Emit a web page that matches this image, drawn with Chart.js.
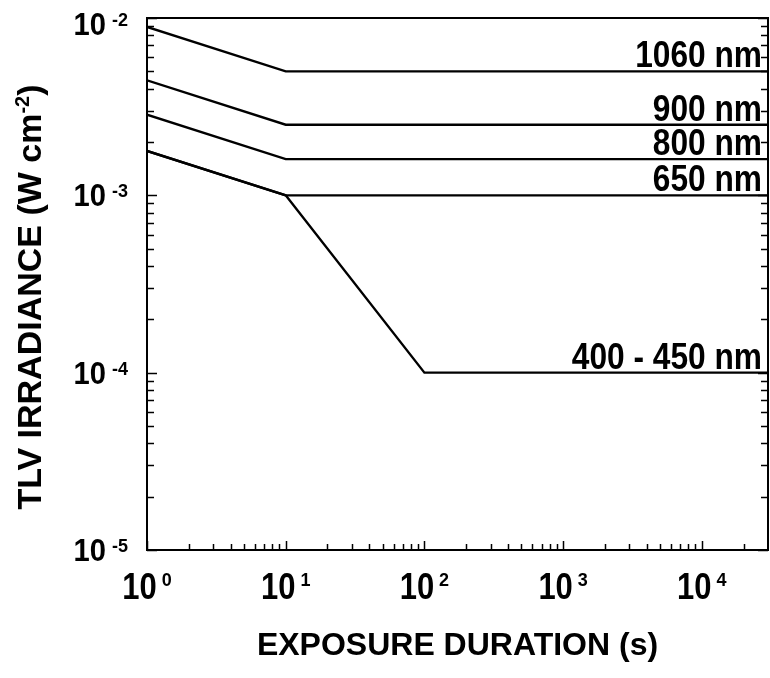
<!DOCTYPE html>
<html>
<head>
<meta charset="utf-8">
<script src="https://cdn.jsdelivr.net/npm/chart.js@4.4.1/dist/chart.umd.min.js"></script>
<style>
  html, body { margin: 0; padding: 0; background: #fff; }
  #wrap { width: 770px; height: 678px; position: relative; }
</style>
</head>
<body>
<div id="wrap"><canvas id="tlv"></canvas></div>
<script>
// exposure duration (s) at the break points of every curve
const durations = [1, 10, 100, 30000];
// TLV irradiance (W cm^-2) at those durations
const tlv1060 = [8.9e-3, 5.0e-3, 5.0e-3, 5.0e-3];
const tlv900 = [4.45e-3, 2.5e-3, 2.5e-3, 2.5e-3];
const tlv800 = [2.85e-3, 1.6e-3, 1.6e-3, 1.6e-3];
const tlv650 = [1.78e-3, 1.0e-3, 1.0e-3, 1.0e-3];
const tlvBlue = [1.78e-3, 1.0e-3, 1.0e-4, 1.0e-4];
const curveNames = ['1060 nm', '900 nm', '800 nm', '650 nm', '400 - 450 nm'];

// decades carrying a labelled tick
const xDecades = [0, 1, 2, 3, 4];
const yDecades = [-5, -4, -3, -2];
const minorSteps = [2, 3, 4, 5, 6, 7, 8, 9];

const curves = [tlv1060, tlv900, tlv800, tlv650, tlvBlue];
const FONT = '"Liberation Sans", Arial, Helvetica, sans-serif';
const INK = '#000';

const bold = (px) => `bold ${px}px ${FONT}`;

function measure(ctx, text, px, sx) {
    ctx.save();
    ctx.font = bold(px);
    const w = ctx.measureText(text).width * sx;
    ctx.restore();
    return w;
}

// bold text, optionally narrowed by sx
function drawText(ctx, text, x, y, px, sx, align) {
    const w = measure(ctx, text, px, sx);
    let left = x;
    if (align === 'right') left = x - w;
    else if (align === 'center') left = x - w / 2;
    ctx.save();
    ctx.font = bold(px);
    ctx.textAlign = 'left';
    ctx.textBaseline = 'alphabetic';
    ctx.translate(left, y);
    ctx.scale(sx, 1);
    ctx.fillText(text, 0, 0);
    ctx.restore();
    return w;
}

// "10" followed by a raised exponent
function powerLabel(ctx, exp, x, y, o) {
    const bw = measure(ctx, '10', o.size, o.sx);
    const sw = measure(ctx, String(exp), o.supSize, 1);
    const total = bw + o.gap + sw;
    const left = o.align === 'right' ? x - total : x - total / 2;
    drawText(ctx, '10', left, y, o.size, o.sx, 'left');
    drawText(ctx, String(exp), left + bw + o.gap, y - o.rise, o.supSize, 1, 'left');
}

function logTicks(decades, max) {
    const major = decades.map((e) => Math.pow(10, e));
    const minor = [];
    decades.forEach((e) => minorSteps.forEach((m) => {
        const v = m * Math.pow(10, e);
        if (v < max) minor.push(v);
    }));
    return { major, minor };
}

const framePlugin = {
    id: 'frame',
    afterDatasetsDraw(chart) {
        const { ctx, chartArea: a, scales: { x, y } } = chart;
        ctx.save();
        ctx.strokeStyle = INK;
        ctx.fillStyle = INK;

        // inward tick marks on left, right and bottom
        const xt = logTicks(xDecades, x.max);
        const yt = logTicks(yDecades, y.max);
        ctx.lineWidth = 1.5;
        ctx.beginPath();
        const yMark = (v, len) => {
            const py = Math.round(y.getPixelForValue(v)) + 0.5;
            ctx.moveTo(a.left, py); ctx.lineTo(a.left + len, py);
            ctx.moveTo(a.right, py); ctx.lineTo(a.right - len, py);
        };
        const xMark = (v, len) => {
            const px = Math.round(x.getPixelForValue(v)) + 0.5;
            ctx.moveTo(px, a.bottom); ctx.lineTo(px, a.bottom - len);
        };
        yt.major.forEach((v) => yMark(v, 10));
        yt.minor.forEach((v) => yMark(v, 7));
        xt.major.forEach((v) => xMark(v, 9));
        xt.minor.forEach((v) => xMark(v, 6));
        ctx.stroke();

        // plot frame
        ctx.lineWidth = 2;
        ctx.strokeRect(a.left, a.top, a.right - a.left, a.bottom - a.top);

        // curve names sitting on the flat part of each line
        curves.forEach((c, i) => {
            const py = y.getPixelForValue(c[c.length - 1]);
            drawText(ctx, curveNames[i], a.right - 6, py - 4, 36, 0.88, 'right');
        });

        // tick labels
        xDecades.forEach((e) => {
            powerLabel(ctx, e, x.getPixelForValue(Math.pow(10, e)), a.bottom + 49,
                { size: 36, sx: 0.86, supSize: 18, gap: 5, rise: 13, align: 'center' });
        });
        yDecades.forEach((e) => {
            const py = y.getPixelForValue(Math.pow(10, e));
            powerLabel(ctx, e, a.left - 19, Math.max(py + 11, a.top + 17),
                { size: 31, sx: 0.94, supSize: 18, gap: 6, rise: 9, align: 'right' });
        });

        // axis titles
        drawText(ctx, 'EXPOSURE DURATION (s)', (a.left + a.right) / 2, a.bottom + 105, 32, 1, 'center');

        ctx.translate(41, (a.top + a.bottom) / 2 + 13);
        ctx.rotate(-Math.PI / 2);
        const head = 'TLV IRRADIANCE (W cm';
        const sup = '-2';
        const w1 = measure(ctx, head, 34, 1);
        const w2 = measure(ctx, sup, 20, 1);
        const w3 = measure(ctx, ')', 34, 1);
        let cx = -(w1 + w2 + w3) / 2;
        drawText(ctx, head, cx, 0, 34, 1, 'left');
        cx += w1;
        drawText(ctx, sup, cx, -12, 20, 1, 'left');
        cx += w2;
        drawText(ctx, ')', cx, 0, 34, 1, 'left');
        ctx.restore();
    },
};

new Chart(document.getElementById('tlv'), {
    type: 'line',
    data: {
        datasets: curves.map((c, i) => ({
            label: curveNames[i],
            data: durations.map((t, k) => ({ x: t, y: c[k] })),
            borderColor: INK,
            borderWidth: 2.4,
            pointRadius: 0,
            tension: 0,
            fill: false,
        })),
    },
    options: {
        responsive: true,
        maintainAspectRatio: false,
        animation: false,
        layout: { padding: { left: 147, right: 2, top: 18, bottom: 128 } },
        plugins: { legend: { display: false }, tooltip: { enabled: false } },
        scales: {
            x: { type: 'logarithmic', min: 1, max: 30000, display: false },
            y: { type: 'logarithmic', min: 1e-5, max: 1e-2, display: false },
        },
    },
    plugins: [framePlugin],
});
</script>
</body>
</html>
